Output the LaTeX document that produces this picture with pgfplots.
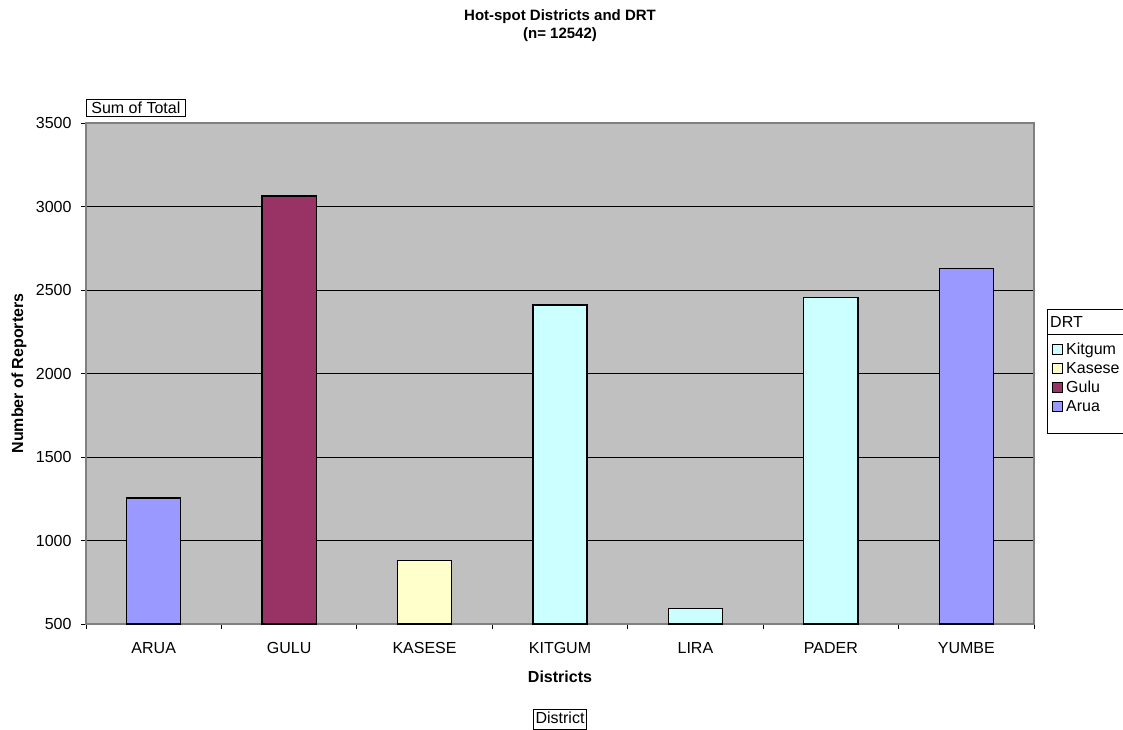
\documentclass[border=0pt]{standalone}
\usepackage{fontspec}
\setmainfont{Liberation Sans}
\usepackage{pgfplots}
\pgfplotsset{compat=1.18}

\definecolor{plotbg}{HTML}{C0C0C0}
\definecolor{framegray}{HTML}{808080}
\definecolor{cArua}{HTML}{9999FF}
\definecolor{cGulu}{HTML}{993366}
\definecolor{cKasese}{HTML}{FFFFCC}
\definecolor{cKitgum}{HTML}{CCFFFF}

\newcommand{\lblfont}{\fontsize{16}{19}\selectfont}

\begin{document}
\begin{tikzpicture}[x=1pt,y=1pt]
\begin{axis}[
  at={(86pt,105pt)}, anchor=south west,
  scale only axis, width=948pt, height=501pt,
  xmin=-0.5, xmax=6.5, ymin=500, ymax=3500,
  ytick={500,1000,...,3500},
  xtick={0,...,6},
  xticklabels={ARUA,GULU,KASESE,KITGUM,LIRA,PADER,YUMBE},
  minor xtick={-0.5,0.5,...,6.5},
  major x tick style={draw=none},
  xtick pos=left, ytick pos=left,
  tick align=outside,
  major tick length=5pt, minor tick length=5pt,
  tick style={black, line width=0.8pt},
  ymajorgrids, grid style={black, line width=0.9pt},
  axis background/.style={fill=plotbg},
  axis line style={draw=framegray, line width=1.5pt},
  /pgf/number format/assume math mode=true,
  /pgf/number format/1000 sep={},
  ticklabel style={font=\lblfont},
  xticklabel style={anchor=center, yshift=-19pt},
  yticklabel style={anchor=east, xshift=-6pt},
  xlabel={\bfseries Districts},
  ylabel={\bfseries Number of Reporters},
  label style={font=\lblfont},
  xlabel style={at={(axis description cs:0.5,-0.1058)}, anchor=center},
  ylabel style={at={(axis description cs:-0.0708,0.5)}, anchor=center},
  title={Hot-spot Districts and DRT\\(n= 12542)},
  title style={font=\fontsize{15}{18}\selectfont\bfseries, align=center,
    at={(axis description cs:0.5,1.1816)}, anchor=center},
  ybar, bar width=0.4,
  every axis plot/.append style={bar shift=0pt, draw=black, line width=1.2pt},
]
% Kitgum DRT
\addplot[fill=cKitgum] coordinates {(3,2410) (4,595) (5,2453)};
% Kasese DRT
\addplot[fill=cKasese] coordinates {(2,879)};
% Gulu DRT
\addplot[fill=cGulu] coordinates {(1,3063)};
% Arua DRT
\addplot[fill=cArua] coordinates {(0,1254) (6,2630)};
\end{axis}

% pivot field buttons
\node[draw=black, line width=0.8pt, fill=white, anchor=north west,
      inner xsep=5pt, inner ysep=3pt, font=\lblfont,
      text height=11.5pt, text depth=0pt] at (86,630) {Sum of Total};
\node[draw=black, line width=0.8pt, fill=white, anchor=north,
      inner xsep=2pt, inner ysep=3pt, font=\lblfont,
      text height=11.5pt, text depth=2pt] at (560,20) {District};

% legend
\draw[black, line width=0.8pt, fill=white] (1047,420) rectangle (1160,296);
\draw[black, line width=0.8pt] (1047,395) -- (1160,395);
\node[anchor=base west, inner sep=0pt, font=\lblfont] at (1050,401.5) {DRT};
\foreach \c/\n/\yy in {cKitgum/Kitgum/380, cKasese/Kasese/361, cGulu/Gulu/342, cArua/Arua/323}{
  \draw[black, line width=0.8pt, fill=\c] (1052,\yy-5) rectangle (1062,\yy+5);
  \node[anchor=base west, inner sep=0pt, font=\lblfont] at (1066,\yy-5.75) {\n};
}

\pgfresetboundingbox
\useasboundingbox (0,0) rectangle (1123,729);
\end{tikzpicture}
\end{document}
